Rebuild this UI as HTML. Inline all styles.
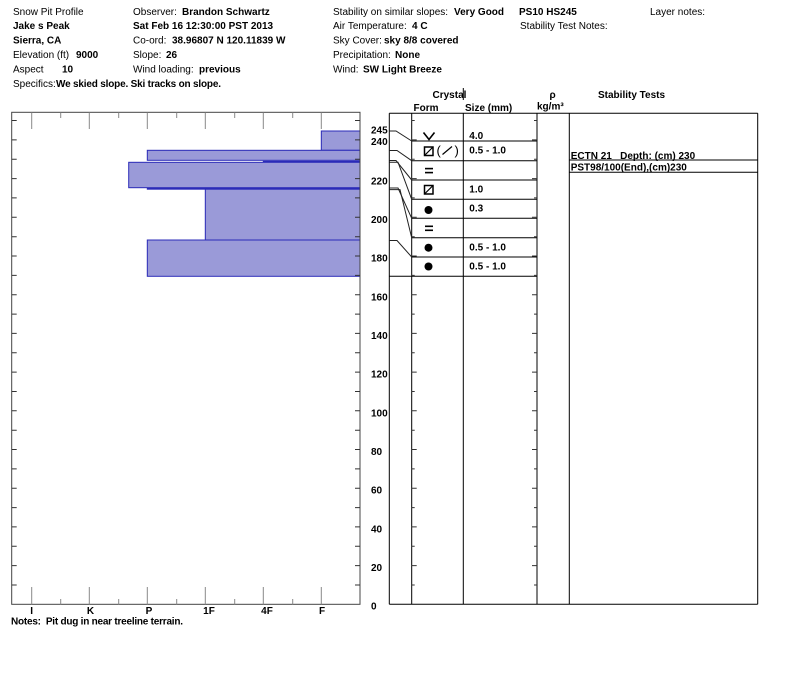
<!DOCTYPE html>
<html>
<head>
<meta charset="utf-8">
<style>
html,body{margin:0;padding:0;background:#fff;}
svg{display:block;}
text{font-family:"Liberation Sans",Arial,sans-serif;font-size:10px;fill:#000;}
.b{font-weight:bold;}
</style>
</head>
<body>
<svg width="800" height="676" viewBox="0 0 800 676" xmlns="http://www.w3.org/2000/svg">
<rect x="0" y="0" width="800" height="676" fill="#fff"/>

<!-- Header -->
<text x="13" y="14.8">Snow Pit Profile</text>
<text x="133" y="14.8">Observer:</text>
<text x="182" y="14.8" class="b">Brandon Schwartz</text>
<text x="333" y="14.8">Stability on similar slopes:</text>
<text x="454" y="14.8" class="b">Very Good</text>
<text x="519" y="14.8" class="b">PS10 HS245</text>
<text x="650" y="14.8">Layer notes:</text>

<text x="13" y="29" class="b">Jake s Peak</text>
<text x="133" y="29" class="b">Sat Feb 16 12:30:00 PST 2013</text>
<text x="333" y="29">Air Temperature:</text>
<text x="412" y="29" class="b">4 C</text>
<text x="520" y="29">Stability Test Notes:</text>

<text x="13" y="43.4" class="b">Sierra, CA</text>
<text x="133" y="43.4">Co-ord:</text>
<text x="172" y="43.4" class="b">38.96807 N 120.11839 W</text>
<text x="333" y="43.4">Sky Cover:</text>
<text x="384" y="43.4" class="b">sky 8/8 covered</text>

<text x="13" y="57.9">Elevation (ft)</text>
<text x="76" y="57.9" class="b">9000</text>
<text x="133" y="57.9">Slope:</text>
<text x="166" y="57.9" class="b">26</text>
<text x="333" y="57.9">Precipitation:</text>
<text x="395" y="57.9" class="b">None</text>

<text x="13" y="72.4">Aspect</text>
<text x="62" y="72.4" class="b">10</text>
<text x="133" y="72.4">Wind loading:</text>
<text x="199" y="72.4" class="b">previous</text>
<text x="333" y="72.4">Wind:</text>
<text x="363" y="72.4" class="b">SW Light Breeze</text>

<text x="13" y="86.9">Specifics:</text>
<text x="56" y="86.9" class="b" textLength="165">We skied slope. Ski tracks on slope.</text>

<!-- Table header -->
<text x="432.5" y="98" class="b">Crystal</text>
<line x1="463.3" y1="88" x2="463.3" y2="100" stroke="#000" stroke-width="1"/>
<text x="413.5" y="111" class="b">Form</text>
<text x="465" y="111" class="b">Size (mm)</text>
<text x="549.5" y="98" class="b">ρ</text>
<text x="537" y="109.5" class="b">kg/m³</text>
<text x="598" y="98" class="b">Stability Tests</text>

<!-- Hardness bars -->
<g fill="#9a9ad8" stroke="#2b2bb8" stroke-width="1">
  <rect x="321.3" y="131" width="38.7" height="19.3"/>
  <rect x="147.3" y="150.3" width="212.7" height="10"/>
  <rect x="263.3" y="161.3" width="96.7" height="1"/>
  <rect x="128.7" y="162.3" width="231.3" height="25.4"/>
  <rect x="147.3" y="188.2" width="212.7" height="1"/>
  <rect x="205.3" y="189.2" width="154.7" height="50.8"/>
  <rect x="147.3" y="240" width="212.7" height="36.3"/>
</g>

<!-- Left chart frame -->
<rect x="11.7" y="112.3" width="348.3" height="492" fill="none" stroke="#444" stroke-width="1"/>

<!-- top/bottom ticks -->
<g stroke="#888" stroke-width="1">
  <line x1="31.7" y1="112.3" x2="31.7" y2="129"/>
  <line x1="89.3" y1="112.3" x2="89.3" y2="129"/>
  <line x1="147.3" y1="112.3" x2="147.3" y2="129"/>
  <line x1="205.3" y1="112.3" x2="205.3" y2="129"/>
  <line x1="263.3" y1="112.3" x2="263.3" y2="129"/>
  <line x1="321.3" y1="112.3" x2="321.3" y2="129"/>
  <line x1="60.7" y1="112.3" x2="60.7" y2="118"/>
  <line x1="118.7" y1="112.3" x2="118.7" y2="118"/>
  <line x1="176.7" y1="112.3" x2="176.7" y2="118"/>
  <line x1="234.7" y1="112.3" x2="234.7" y2="118"/>
  <line x1="292.7" y1="112.3" x2="292.7" y2="118"/>

  <line x1="31.7" y1="587" x2="31.7" y2="604.3"/>
  <line x1="89.3" y1="587" x2="89.3" y2="604.3"/>
  <line x1="147.3" y1="587" x2="147.3" y2="604.3"/>
  <line x1="205.3" y1="587" x2="205.3" y2="604.3"/>
  <line x1="263.3" y1="587" x2="263.3" y2="604.3"/>
  <line x1="321.3" y1="587" x2="321.3" y2="604.3"/>
  <line x1="60.7" y1="599" x2="60.7" y2="604.3"/>
  <line x1="118.7" y1="599" x2="118.7" y2="604.3"/>
  <line x1="176.7" y1="599" x2="176.7" y2="604.3"/>
  <line x1="234.7" y1="599" x2="234.7" y2="604.3"/>
  <line x1="292.7" y1="599" x2="292.7" y2="604.3"/>
</g>

<!-- side ticks (every 10 cm) -->
<g stroke="#333" stroke-width="1">
  <path d="
M11.7 120.5h5 M11.7 139.9h5 M11.7 159.2h5 M11.7 178.6h5 M11.7 197.9h5 M11.7 217.3h5 M11.7 236.7h5 M11.7 256h5 M11.7 275.4h5 M11.7 294.7h5 M11.7 314.1h5 M11.7 333.4h5 M11.7 352.8h5 M11.7 372.1h5 M11.7 391.5h5 M11.7 410.8h5 M11.7 430.2h5 M11.7 449.5h5 M11.7 468.9h5 M11.7 488.2h5 M11.7 507.6h5 M11.7 526.9h5 M11.7 546.3h5 M11.7 565.6h5 M11.7 585h5
M355 120.5h5 M355 139.9h5 M355 159.2h5 M355 178.6h5 M355 197.9h5 M355 217.3h5 M355 236.7h5 M355 256h5 M355 275.4h5 M355 294.7h5 M355 314.1h5 M355 333.4h5 M355 352.8h5 M355 372.1h5 M355 391.5h5 M355 410.8h5 M355 430.2h5 M355 449.5h5 M355 468.9h5 M355 488.2h5 M355 507.6h5 M355 526.9h5 M355 546.3h5 M355 565.6h5 M355 585h5
" fill="none"/>
</g>

<!-- hardness labels -->
<g text-anchor="middle">
  <text x="31.7" y="614" class="b">I</text>
  <text x="90.5" y="614" class="b">K</text>
  <text x="149" y="614" class="b">P</text>
  <text x="209" y="614" class="b">1F</text>
  <text x="267" y="614" class="b">4F</text>
  <text x="322" y="614" class="b">F</text>
</g>
<text x="11" y="624.5" class="b" textLength="172" xml:space="preserve">Notes:  Pit dug in near treeline terrain.</text>

<!-- Depth labels -->
<g>
  <text x="371" y="133.5" class="b">245</text>
  <text x="371" y="145" class="b">240</text>
  <text x="371" y="184.3" class="b">220</text>
  <text x="371" y="223" class="b">200</text>
  <text x="371" y="261.7" class="b">180</text>
  <text x="371" y="300.3" class="b">160</text>
  <text x="371" y="339" class="b">140</text>
  <text x="371" y="377.7" class="b">120</text>
  <text x="371" y="416.3" class="b">100</text>
  <text x="371" y="455" class="b">80</text>
  <text x="371" y="493.7" class="b">60</text>
  <text x="371" y="532.3" class="b">40</text>
  <text x="371" y="571" class="b">20</text>
  <text x="371" y="609.5" class="b">0</text>
</g>

<!-- Table structure -->
<g stroke="#000" stroke-width="1" fill="none">
  <line x1="389.3" y1="113.3" x2="757.7" y2="113.3"/>
  <line x1="389.3" y1="604.3" x2="757.7" y2="604.3"/>
  <line x1="389.3" y1="113.3" x2="389.3" y2="604.3"/>
  <line x1="411.7" y1="113.3" x2="411.7" y2="604.3"/>
  <line x1="463.3" y1="113.3" x2="463.3" y2="604.3"/>
  <line x1="537" y1="113.3" x2="537" y2="604.3"/>
  <line x1="569.3" y1="113.3" x2="569.3" y2="604.3"/>
  <line x1="757.7" y1="113.3" x2="757.7" y2="604.3"/>

  <line x1="411.7" y1="141" x2="537" y2="141"/>
  <line x1="411.7" y1="160.7" x2="537" y2="160.7"/>
  <line x1="411.7" y1="180" x2="537" y2="180"/>
  <line x1="411.7" y1="199.3" x2="537" y2="199.3"/>
  <line x1="411.7" y1="218.3" x2="537" y2="218.3"/>
  <line x1="411.7" y1="237.7" x2="537" y2="237.7"/>
  <line x1="411.7" y1="257" x2="537" y2="257"/>
  <line x1="389.3" y1="276.3" x2="537" y2="276.3"/>

  <line x1="569.3" y1="160" x2="757.7" y2="160"/>
  <line x1="569.3" y1="172.3" x2="757.7" y2="172.3"/>
</g>

<!-- connectors -->
<g stroke="#222" stroke-width="1" fill="none">
  <polyline points="389.3,131 396,131 411.7,141"/>
  <polyline points="389.3,150.5 397,150.5 411.7,160.7"/>
  <polyline points="389.3,160.5 396,160.5 411.7,180"/>
  <polyline points="389.3,162.2 398,162.2 411.7,199.3"/>
  <polyline points="389.3,188 398,188 411.7,218.3"/>
  <polyline points="389.3,189.6 400,189.6 411.7,237.7"/>
  <polyline points="389.3,240.5 397,240.5 411.7,257"/>
</g>

<!-- table column ticks -->
<g stroke="#333" stroke-width="1">
  <path d="
M411.7 120.5h3 M411.7 139.9h5 M411.7 159.2h3 M411.7 178.6h5 M411.7 197.9h3 M411.7 217.3h5 M411.7 236.7h3 M411.7 256h5 M411.7 275.4h3 M411.7 294.7h5 M411.7 314.1h3 M411.7 333.4h5 M411.7 352.8h3 M411.7 372.1h5 M411.7 391.5h3 M411.7 410.8h5 M411.7 430.2h3 M411.7 449.5h5 M411.7 468.9h3 M411.7 488.2h5 M411.7 507.6h3 M411.7 526.9h5 M411.7 546.3h3 M411.7 565.6h5 M411.7 585h3
M534 120.5h3 M532 139.9h5 M534 159.2h3 M532 178.6h5 M534 197.9h3 M532 217.3h5 M534 236.7h3 M532 256h5 M534 275.4h3 M532 294.7h5 M534 314.1h3 M532 333.4h5 M534 352.8h3 M532 372.1h5 M534 391.5h3 M532 410.8h5 M534 430.2h3 M532 449.5h5 M534 468.9h3 M532 488.2h5 M534 507.6h3 M532 526.9h5 M534 546.3h3 M532 565.6h5 M534 585h3
" fill="none"/>
</g>

<!-- crystal form symbols -->
<g stroke="#000" fill="none">
  <polyline points="423.5,132.5 429,139.5 434.5,132.5" stroke-width="1.6"/>
  <rect x="424.5" y="147" width="8.5" height="8.5" stroke-width="1.5"/>
  <line x1="424.5" y1="155.5" x2="433" y2="147" stroke-width="1.2"/>
  <line x1="442.5" y1="154.5" x2="452" y2="146.5" stroke-width="1.2"/>
  <line x1="425" y1="168.6" x2="433" y2="168.6" stroke-width="1.6"/>
  <line x1="425" y1="172.6" x2="433" y2="172.6" stroke-width="1.6"/>
  <rect x="424.5" y="185.5" width="8.5" height="8.5" stroke-width="1.5"/>
  <line x1="424.5" y1="194" x2="433" y2="185.5" stroke-width="1.2"/>
  <line x1="425" y1="226.3" x2="433" y2="226.3" stroke-width="1.6"/>
  <line x1="425" y1="230.3" x2="433" y2="230.3" stroke-width="1.6"/>
</g>
<text x="436.5" y="155" style="font-size:13px">(</text>
<text x="454.5" y="155" style="font-size:13px">)</text>
<g fill="#000">
  <circle cx="428.5" cy="210" r="4"/>
  <circle cx="428.5" cy="247.7" r="4"/>
  <circle cx="428.5" cy="266.5" r="4"/>
</g>

<!-- sizes -->
<text x="469.3" y="139" class="b">4.0</text>
<text x="469.3" y="153.5" class="b">0.5 - 1.0</text>
<text x="469.3" y="192.5" class="b">1.0</text>
<text x="469.3" y="211.5" class="b">0.3</text>
<text x="469.3" y="250.5" class="b">0.5 - 1.0</text>
<text x="469.3" y="269.5" class="b">0.5 - 1.0</text>

<!-- stability tests -->
<text x="570.7" y="159" class="b" xml:space="preserve">ECTN 21   Depth: (cm) 230</text>
<text x="570.7" y="170.5" class="b">PST98/100(End),(cm)230</text>
</svg>
</body>
</html>
